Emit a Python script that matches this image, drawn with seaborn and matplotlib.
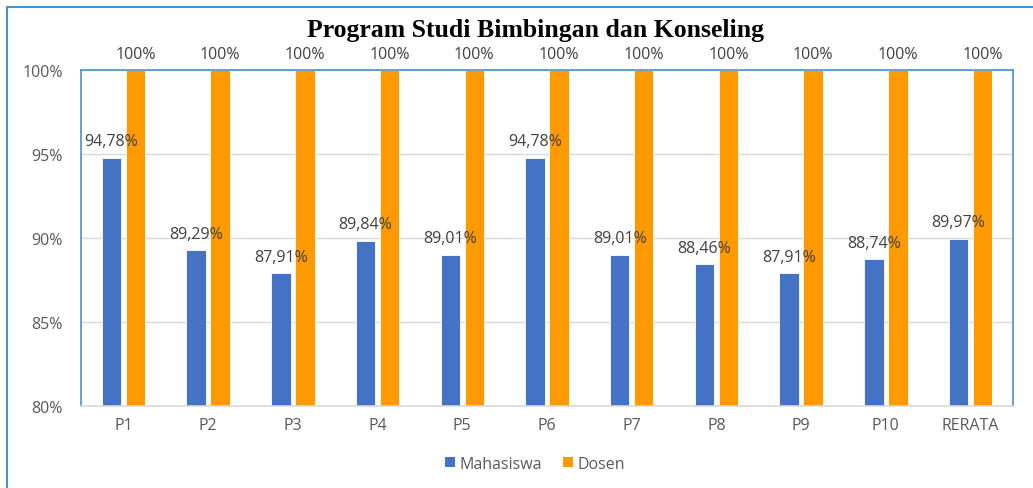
import matplotlib
matplotlib.use("Agg")
import matplotlib.pyplot as plt
import seaborn as sns
import pandas as pd
from matplotlib.lines import Line2D
from matplotlib.patches import Patch

categories = ["P1", "P2", "P3", "P4", "P5", "P6", "P7", "P8", "P9", "P10", "RERATA"]
mahasiswa = [94.78, 89.29, 87.91, 89.84, 89.01, 94.78, 89.01, 88.46, 87.91, 88.74, 89.97]
dosen = [100, 100, 100, 100, 100, 100, 100, 100, 100, 100, 100]
series = ["Mahasiswa", "Dosen"]
colors = ["#4472C4", "#FF9900"]
title = "Program Studi Bimbingan dan Konseling"
yticks = [80, 85, 90, 95, 100]

df = pd.DataFrame({
    "cat": categories * 2,
    "val": mahasiswa + dosen,
    "series": [series[0]] * len(categories) + [series[1]] * len(categories),
})

sns.set_theme(style="white")
plt.rcParams["font.family"] = ["Open Sans", "DejaVu Sans"]

fig = plt.figure(figsize=(10.33, 4.89), dpi=100)
ax = fig.add_axes([0.0784, 0.1677, 0.9022, 0.6871])

sns.barplot(data=df, x="cat", y="val", hue="series", palette=colors,
            saturation=1, width=0.567, gap=0.19, ax=ax, legend=False,
            edgecolor="white", linewidth=0.6, errorbar=None)

ax.set_ylim(80, 100)
ax.set_xlim(-0.5, len(categories) - 0.5)
ax.set_yticks(yticks)
ax.set_yticklabels([f"{v}%" for v in yticks])
ax.yaxis.grid(True, color="#D9D9D9", linewidth=1)
ax.set_axisbelow(True)
ax.set_xlabel("")
ax.set_ylabel("")
ax.tick_params(axis="y", length=0, pad=13, labelsize=11.5, labelcolor="#595959")
ax.tick_params(axis="x", length=0, pad=8, labelsize=11.5, labelcolor="#595959")

for side in ["top", "left", "right"]:
    ax.spines[side].set_visible(True)
    ax.spines[side].set_color("#4A90D0")
    ax.spines[side].set_linewidth(1.2)
ax.spines["bottom"].set_color("#D9D9D9")
ax.spines["bottom"].set_linewidth(1.2)

def fmt(v):
    if float(v).is_integer():
        return f"{int(v)}%"
    return f"{v:.2f}".replace(".", ",") + "%"

for container in ax.containers:
    labels = [fmt(b.get_height()) for b in container]
    ax.bar_label(container, labels=labels, padding=6, fontsize=11.5,
                 color="#404040", clip_on=False)

fig.text(0.518, 0.938, title, ha="center", va="center",
         fontsize=18.5, fontweight="bold", family="Liberation Serif", color="black")

handles = [Patch(facecolor=c, edgecolor="none") for c in colors]
fig.legend(handles, series, loc="center", bbox_to_anchor=(0.518, 0.05),
           ncol=2, frameon=False, fontsize=11.5, handlelength=0.6,
           handleheight=0.6, handletextpad=0.3, columnspacing=1.3,
           labelcolor="#595959")

# outer frame lines
fig.add_artist(Line2D([0.007, 0.007], [0.0, 0.984], transform=fig.transFigure,
                      color="#4A90D0", linewidth=1.5))
fig.add_artist(Line2D([0.007, 1.0], [0.984, 0.984], transform=fig.transFigure,
                      color="#4A90D0", linewidth=1.5))

fig.savefig("out.png", dpi=100)
